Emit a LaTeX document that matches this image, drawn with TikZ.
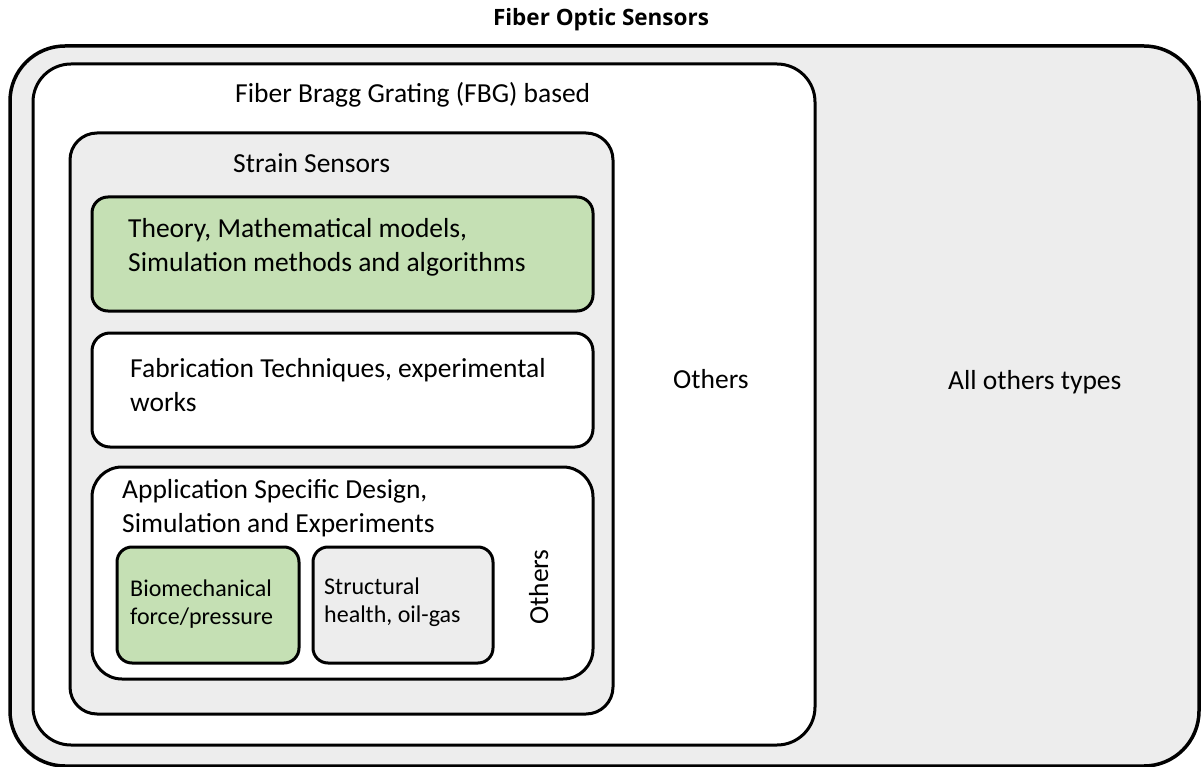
\documentclass[tikz,border=0pt]{standalone}
\usepackage{fontspec}
\setmainfont{Carlito}
\newfontfamily\titrefont{Open Sans}
\definecolor{grisfond}{HTML}{EDEDED}
\definecolor{vertclair}{HTML}{C5E0B4}
\tikzset{
  cadre/.style={draw=black, line width=3pt, rectangle, inner sep=0pt},
  texte/.style={inner sep=0pt, align=left, font=\fontsize{27.5}{34}\selectfont},
  petit/.style={inner sep=0pt, align=left, font=\fontsize{24}{28}\selectfont}
}
\begin{document}
\begin{tikzpicture}[x=1pt, y=-1pt]
\useasboundingbox (0,0) rectangle (1201,767);

% Titre
\node[inner sep=0pt, anchor=base, font=\titrefont\fontsize{22.5}{26}\selectfont\bfseries] (titre) at (601,26) {Fiber Optic Sensors};

% Cadre exterieur
\node[cadre, fill=grisfond, rounded corners=55pt, minimum width=1189pt, minimum height=720pt, line width=3.5pt] (tous) at (604.5,406) {};
\node[texte, anchor=base west] (autrestypes) at (948,389) {All others types};

% FBG
\node[cadre, fill=white, rounded corners=38pt, minimum width=782pt, minimum height=681pt] (fbg) at (424,404.5) {};
\node[texte, anchor=base west] (fbgtitre) at (235,103) {Fiber Bragg Grating (FBG) based};
\node[texte, anchor=base west] (autresfbg) at (673,388) {Others};

% Capteurs de deformation
\node[cadre, fill=grisfond, rounded corners=27pt, minimum width=543pt, minimum height=581pt] (strain) at (341.5,423.5) {};
\node[texte, anchor=base west] (straintitre) at (233,173) {Strain Sensors};

% Theorie (base = derniere ligne)
\node[cadre, fill=vertclair, rounded corners=16pt, minimum width=501pt, minimum height=114pt] (theorie) at (342.5,254) {};
\node[texte, anchor=base west] (theorietxt) at (128,271) {Theory, Mathematical models,\\Simulation methods and algorithms};

% Fabrication
\node[cadre, fill=white, rounded corners=18pt, minimum width=501pt, minimum height=114pt] (fab) at (342.5,390) {};
\node[texte, anchor=base west] (fabtxt) at (130,411) {Fabrication Techniques, experimental\\works};

% Application
\node[cadre, fill=white, rounded corners=30pt, minimum width=501pt, minimum height=212pt] (appli) at (342.5,573) {};
\node[texte, anchor=base west] (applitxt) at (122,532) {Application Specific Design,\\Simulation and Experiments};
\node[texte, anchor=base west, rotate=90] (autresappli) at (548,625) {Others};

% Sous-cadres
\node[cadre, fill=vertclair, rounded corners=15pt, minimum width=182pt, minimum height=116pt] (bio) at (208,605) {};
\node[petit, anchor=base west] (biotxt) at (130,624) {Biomechanical\\force/pressure};
\node[cadre, fill=grisfond, rounded corners=15pt, minimum width=180pt, minimum height=116pt] (struct) at (403,605) {};
\node[petit, anchor=base west] (structtxt) at (324,622) {Structural\\health, oil-gas};

\end{tikzpicture}
\end{document}
